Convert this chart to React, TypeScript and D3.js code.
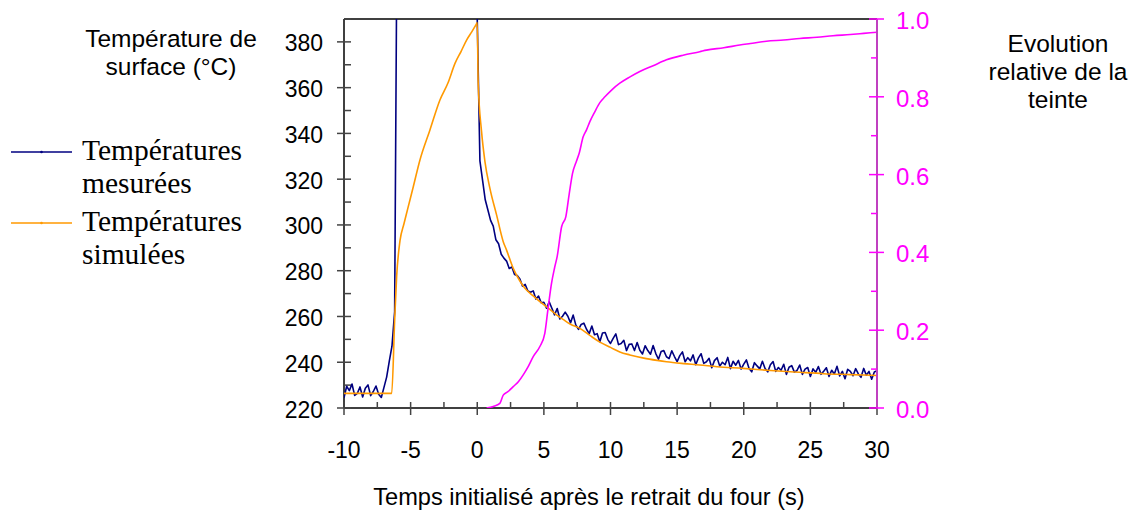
import React from "react";
import * as d3 from "d3";

// ---------- DATA ----------
const xTicks = [-10, -5, 0, 5, 10, 15, 20, 25, 30];
const tempTicks = [220, 240, 260, 280, 300, 320, 340, 360, 380];
const tintTicks = [0, 0.2, 0.4, 0.6, 0.8, 1.0];

// Measured temperatures: sampled every 0.2 s from -10 s (values above 390 are off scale)
const measuredStart = -10;
const measuredStep = 0.2;
const measuredValues = [
  224.5, 229.5, 227.6, 230.5, 225.5, 226.4, 229.2, 224.8, 228.6, 230.1,
  225.4, 227.2, 229.6, 226.0, 224.6, 229, 233.5, 240.5, 247, 262,
  450, 450, 450, 450, 450, 450, 450, 450, 450, 450,
  450, 450, 450, 450, 450, 450, 450, 450, 450, 450,
  450, 450, 450, 450, 450, 450, 450, 450, 450, 450,
  390, 328, 319.5, 311, 306.5, 302, 299.5, 293.5, 291.8, 287.2,
  285.5, 284.2, 281.0, 281.6, 278.3, 277.9, 276.4, 273.2, 274.0, 271.1,
  270.6, 271.2, 267.6, 268.9, 266.0, 266.2, 263.6, 266.4, 263.6, 260.7,
  263.5, 258.9, 260.1, 261.9, 260.1, 257.2, 260.6, 256.2, 254.4, 256.5,
  257.1, 254.4, 252.5, 255.8, 252.0, 252.5, 249.0, 252.8, 253.0, 249.9,
  248.2, 250.4, 252.4, 247.7, 248.2, 249.6, 245.1, 247.8, 248.0, 245.1,
  248.6, 245.2, 243.6, 247.2, 245.1, 243.5, 247.3, 243.8, 241.3, 244.7,
  245.1, 242.4, 241.6, 245.0, 242.5, 240.3, 242.9, 244.5, 240.2, 242.0,
  240.6, 243.2, 238.9, 241.9, 243.7, 239.5, 240.2, 241.7, 237.6, 240.7,
  242.0, 238.3, 240.0, 238.9, 242.1, 237.2, 240.4, 238.7, 240.8, 237.0,
  239.2, 241.0, 237.3, 235.8, 239.8, 238.4, 237.1, 240.4, 237.3, 235.8,
  238.9, 240.3, 236.0, 237.7, 236.5, 239.1, 234.7, 237.8, 238.5, 235.7,
  236.4, 238.8, 234.7, 237.0, 237.7, 233.8, 237.1, 235.6, 238.1, 234.7,
  236.1, 237.6, 233.8, 236.5, 234.9, 238.2, 234.0, 236.0, 232.8, 236.9,
  236.0, 234.1, 237.2, 234.9, 233.4, 237.3, 234.3, 236.0, 232.6, 235.7,
  236.3,
];

// Simulated temperatures
const simTimes = [
  -10, -6.42, -6.2, -6.05, -5.8, -5.5, -5.22, -4.8, -4.3, -3.55,
  -2.8, -2.2, -1.67, -1.2, -0.8, -0.4, -0.1, 0, 0.07, 0.32,
  0.58, 0.95, 1.45, 1.95, 2.2, 2.7, 3.2, 3.58, 4.2, 4.7,
  5.33, 6, 6.5, 7, 7.7, 8.5, 9.2, 10, 10.7, 11.45,
  12.5, 13.5, 14.2, 15.5, 16.7, 18, 19.95, 22, 24.2, 26,
  28, 30,
];
const simValues = [
  226.4, 226.4, 258, 277.4, 293, 300.5, 307, 316.7, 328.4, 341.5,
  354.6, 362, 370.6, 376, 380.8, 384.5, 387.4, 388.4, 362, 341,
  327.6, 316, 304.4, 292.7, 289, 281, 275.5, 272.3, 269, 266.5,
  263.6, 260.5, 258.5, 256.6, 254.8, 251.5, 248.8, 246.5, 244.5, 243.2,
  241.8, 240.8, 240.2, 239.4, 238.8, 238, 237.3, 236.4, 235.6, 235,
  234.6, 234.2,
];

// Relative tint evolution (right axis)
const tintTimes = [
  0.7, 1.2, 1.7, 1.95, 2.3, 2.7, 3.1, 3.45, 3.8, 4.2,
  4.7, 5.07, 5.3, 5.57, 5.8, 6.0, 6.33, 6.65, 6.9, 7.15,
  7.45, 7.65, 7.95, 8.2, 8.45, 8.83, 9.2, 9.58, 10.1, 10.7,
  11.4, 12.2, 13.2, 14.2, 15.45, 16.7, 17.2, 18.5, 19.7, 20.5,
  21.7, 23, 24.2, 25.5, 26.7, 28, 29, 30,
];
const tintValues = [
  0, 0.004, 0.012, 0.033, 0.042, 0.055, 0.068, 0.085, 0.105, 0.132,
  0.158, 0.192, 0.252, 0.32, 0.36, 0.39, 0.466, 0.492, 0.55, 0.603,
  0.635, 0.655, 0.697, 0.715, 0.736, 0.762, 0.785, 0.8, 0.818, 0.835,
  0.85, 0.865, 0.88, 0.895, 0.907, 0.916, 0.92, 0.926, 0.933, 0.937,
  0.943, 0.946, 0.95, 0.953, 0.957, 0.96, 0.963, 0.966,
];

const legendLabels = [
  ["Températures", "mesurées"],
  ["Températures", "simulées"],
];

// ---------- LAYOUT ----------
const W = 1138;
const H = 512;
const left = 344;
const right = 877;
const top = 19;
const bottom = 408;

const NAVY = "#000080";
const ORANGE = "#FF9900";
const MAGENTA = "#FF00FF";
const SANS = "'Liberation Sans', Arial, sans-serif";
const SERIF = "'Liberation Serif', 'Times New Roman', serif";

export default function App() {
  const x = d3.scaleLinear().domain([-10, 30]).range([left, right]);
  const yT = d3.scaleLinear().domain([220, 390]).range([bottom, top]);
  const yR = d3.scaleLinear().domain([0, 1]).range([bottom, top]);

  const measured = measuredValues.map((v, i) => [measuredStart + i * measuredStep, v] as [number, number]);
  const simulated = simTimes.map((t, i) => [t, simValues[i]] as [number, number]);
  const tint = tintTimes.map((t, i) => [t, tintValues[i]] as [number, number]);

  const lineT = d3.line<[number, number]>().x((d) => x(d[0])).y((d) => yT(d[1]));
  const lineSim = d3
    .line<[number, number]>()
    .x((d) => x(d[0]))
    .y((d) => yT(d[1]))
    .curve(d3.curveMonotoneX);
  const lineR = d3
    .line<[number, number]>()
    .x((d) => x(d[0]))
    .y((d) => yR(d[1]))
    .curve(d3.curveMonotoneX);

  const xMinor = d3.range(-7.5, 30, 5);
  const tMinor = d3.range(230, 391, 20);
  const rMinor = d3.range(0.1, 1.0, 0.2);
  const fmtR = d3.format(".1f");

  return (
    <svg width={W} height={H} style={{ position: "absolute", left: 0, top: 0, background: "#fff" }}>
      <defs>
        <clipPath id="plotClip">
          <rect x={left} y={top} width={right - left} height={bottom - top} />
        </clipPath>
      </defs>

      {/* frame */}
      <line x1={left} x2={right} y1={top} y2={top} stroke="#000" strokeWidth={1.5} />
      <line x1={left} x2={left} y1={top} y2={bottom} stroke="#000" strokeWidth={1.5} />
      <line x1={left} x2={right} y1={bottom} y2={bottom} stroke="#000" strokeWidth={1.5} />

      {/* left axis ticks */}
      {tempTicks.map((t) => (
        <g key={"lt" + t}>
          <line x1={left - 7} x2={left + 7} y1={yT(t)} y2={yT(t)} stroke="#444" strokeWidth={1.5} />
          <text x={323} y={yT(t) + 9.5} textAnchor="end" fontFamily={SANS} fontSize={23} fill="#000">
            {t}
          </text>
        </g>
      ))}
      {tMinor.map((t) => (
        <line key={"lm" + t} x1={left} x2={left + 7} y1={yT(t)} y2={yT(t)} stroke="#444" strokeWidth={1.5} />
      ))}

      {/* bottom axis ticks */}
      {xTicks.map((t) => (
        <g key={"xt" + t}>
          <line x1={x(t)} x2={x(t)} y1={bottom - 6} y2={bottom + 7} stroke="#444" strokeWidth={1.5} />
          <text x={x(t)} y={458} textAnchor="middle" fontFamily={SANS} fontSize={23} fill="#000">
            {t}
          </text>
        </g>
      ))}
      {xMinor.map((t) => (
        <line key={"xm" + t} x1={x(t)} x2={x(t)} y1={bottom - 6} y2={bottom} stroke="#444" strokeWidth={1.5} />
      ))}

      {/* series */}
      <g clipPath="url(#plotClip)" fill="none">
        <path d={lineT(measured) || ""} stroke={NAVY} strokeWidth={1.6} strokeLinejoin="round" />
        <path d={lineSim(simulated) || ""} stroke={ORANGE} strokeWidth={1.6} strokeLinejoin="round" />
        <path d={lineR(tint) || ""} stroke={MAGENTA} strokeWidth={1.6} strokeLinejoin="round" />
      </g>

      {/* right axis */}
      <line x1={right} x2={right} y1={top} y2={bottom} stroke="#C040C0" strokeWidth={2} />
      {tintTicks.map((t) => (
        <g key={"rt" + t}>
          <line x1={right - 8} x2={right + 7} y1={yR(t)} y2={yR(t)} stroke={MAGENTA} strokeWidth={1.5} />
          <text x={896} y={yR(t) + 10} textAnchor="start" fontFamily={SANS} fontSize={24} fill={MAGENTA}>
            {fmtR(t)}
          </text>
        </g>
      ))}
      {rMinor.map((t) => (
        <line key={"rm" + t} x1={right - 6} x2={right} y1={yR(t)} y2={yR(t)} stroke={MAGENTA} strokeWidth={1.5} />
      ))}

      {/* axis titles */}
      <text textAnchor="middle" fontFamily={SANS} fontSize={24.5} fill="#000">
        <tspan x={171} y={47}>Température de</tspan>
        <tspan x={171} y={75}>surface (°C)</tspan>
      </text>
      <text textAnchor="middle" fontFamily={SANS} fontSize={24.5} fill="#000">
        <tspan x={1058} y={52}>Evolution</tspan>
        <tspan x={1058} y={80}>relative de la</tspan>
        <tspan x={1058} y={108}>teinte</tspan>
      </text>
      <text x={589} y={505} textAnchor="middle" fontFamily={SANS} fontSize={23.6} fill="#000">
        Temps initialisé après le retrait du four (s)
      </text>

      {/* legend */}
      {legendLabels.map((lab, i) => {
        const ly = 152 + i * 71;
        const col = i === 0 ? NAVY : ORANGE;
        return (
          <g key={"lg" + i}>
            <line x1={11} x2={72} y1={ly} y2={ly} stroke={col} strokeWidth={1.6} />
            <circle cx={41.5} cy={ly} r={1.3} fill={col} />
            <text fontFamily={SERIF} fontSize={29.5} fill="#000">
              <tspan x={82} y={ly + 7.5}>{lab[0]}</tspan>
              <tspan x={82} y={ly + 41}>{lab[1]}</tspan>
            </text>
          </g>
        );
      })}
    </svg>
  );
}
